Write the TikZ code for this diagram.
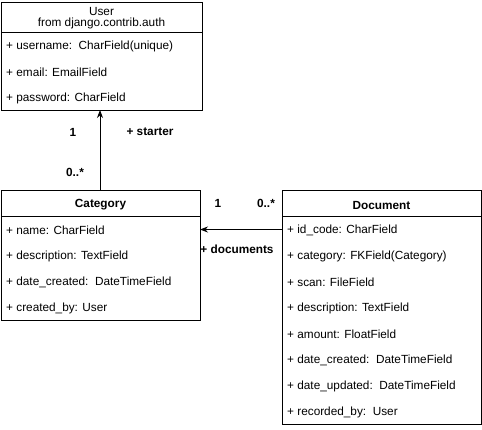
\documentclass[tikz,border=0pt]{standalone}
\usepackage{fontspec}
\setmainfont{Liberation Sans}
\usetikzlibrary{arrows.meta}
\begin{document}
\begin{tikzpicture}[x=1pt,y=-1pt,
  box/.style={draw=black,line width=0.9pt},
  row/.style={anchor=west,inner sep=0pt,font=\fontsize{11.8}{13}\selectfont},
  hdr/.style={inner sep=0pt,font=\fontsize{11.8}{13}\selectfont},
  lbl/.style={inner sep=0pt,font=\fontsize{11.8}{13}\selectfont\bfseries},
  conn/.style={line width=0.9pt,-{Stealth[length=8pt,width=6pt]}}]
\useasboundingbox (0,0) rectangle (482,429);
% User
\node[box,minimum width=201pt,minimum height=108pt,anchor=north west,inner sep=0pt] (user) at (1,2) {};
\draw[line width=0.9pt] (1,32) -- (202,32);
\node[hdr,align=center] (userh) at (101.5,18) {User\\[-1.5pt]from django.contrib.auth};
\node[row] (u1) at (6,46) {+ username:\ \ CharField(unique)};
\node[row] (u2) at (6,72) {+ email: EmailField};
\node[row] (u3) at (6,98) {+ password: CharField};
% Category
\node[box,minimum width=199pt,minimum height=130pt,anchor=north west,inner sep=0pt] (cat) at (1,190) {};
\draw[line width=0.9pt] (1,216) -- (200,216);
\node[hdr,font=\fontsize{11.8}{13}\selectfont\bfseries] (cath) at (100.5,205) {Category};
\node[row] (c1) at (6,230) {+ name: CharField};
\node[row] (c2) at (6,256) {+ description: TextField};
\node[row] (c3) at (6,282) {+ date\_created:\ \ DateTimeField};
\node[row] (c4) at (6,308) {+ created\_by: User};
% Document
\node[box,minimum width=199pt,minimum height=234pt,anchor=north west,inner sep=0pt] (doc) at (282,190) {};
\draw[line width=0.9pt] (282,216) -- (481,216);
\node[hdr,font=\fontsize{11.8}{13}\selectfont\bfseries] (doch) at (381.5,205) {Document};
\node[row] (d1) at (287,230) {+ id\_code: CharField};
\node[row] (d2) at (287,256) {+ category: FKField(Category)};
\node[row] (d3) at (287,282) {+ scan: FileField};
\node[row] (d4) at (287,308) {+ description: TextField};
\node[row] (d5) at (287,334) {+ amount: FloatField};
\node[row] (d6) at (287,360) {+ date\_created:\ \ DateTimeField};
\node[row] (d7) at (287,386) {+ date\_updated:\ \ DateTimeField};
\node[row] (d8) at (287,412) {+ recorded\_by:\ \ User};
% connectors
\coordinate (catTop) at (100,190);
\coordinate (userBot) at (100,110);
\draw[conn] (catTop) -- (userBot);
\coordinate (docL) at (282,229.5);
\coordinate (catR) at (200,229.5);
\draw[conn] (docL) -- (catR);
% labels
\node[lbl] (l1) at (73,132) {1};
\node[lbl] (l2) at (150,132) {+ starter};
\node[lbl] (l3) at (75,172) {0..*};
\node[lbl] (l4) at (218,203) {1};
\node[lbl] (l5) at (266,203) {0..*};
\node[lbl] (l6) at (237,249) {+ documents};
\end{tikzpicture}
\end{document}
